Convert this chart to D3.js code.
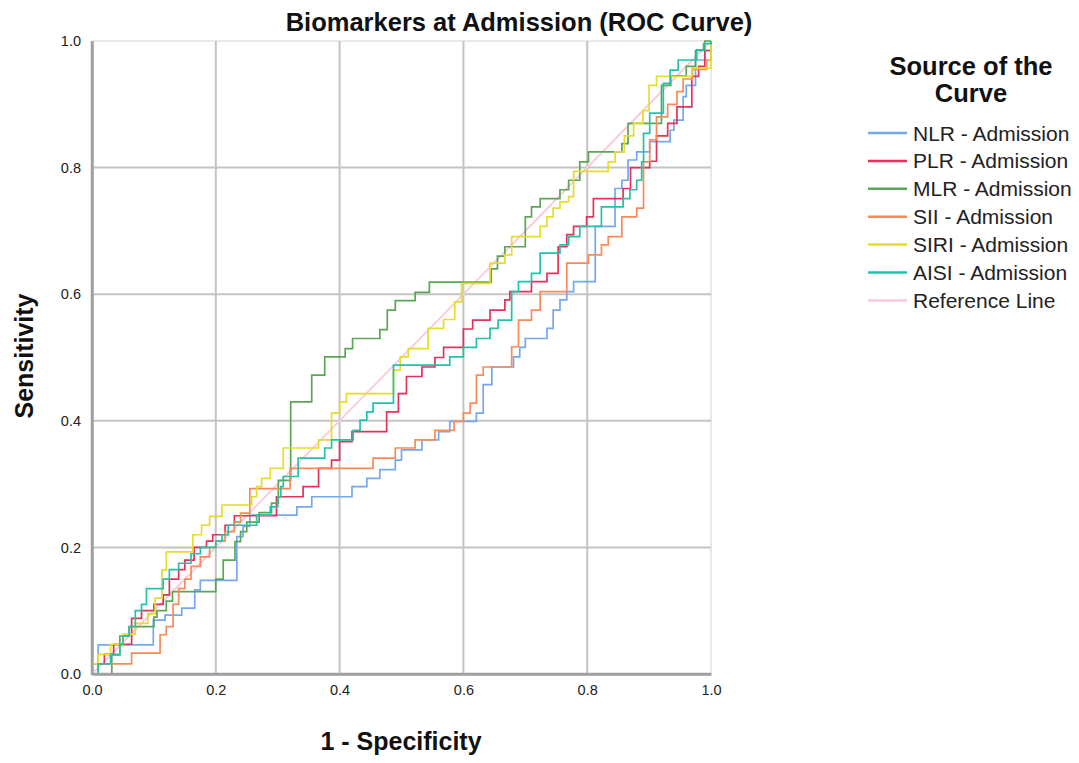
<!DOCTYPE html>
<html><head><meta charset="utf-8">
<script src="https://cdn.jsdelivr.net/npm/d3@7"></script>
<style>body{margin:0;background:#fff;}svg{display:block;font-family:"Liberation Sans",Arial,sans-serif;}</style>
</head><body><svg id="c" width="1079" height="763"></svg>
<script>
// ---- data (FPR, TPR) step corners: at FPR x the curve rises to TPR y ----
const seriesNames = ["NLR - Admission","PLR - Admission","MLR - Admission","SII - Admission","SIRI - Admission","AISI - Admission","Reference Line"];
const seriesColors = ["#74a8f2","#e3325b","#5ba656","#fa8a5a","#e6dc2a","#22c3aa","#fbc9d9"];
const xTicks = [0,0.2,0.4,0.6,0.8,1.0];
const yTicks = [0,0.2,0.4,0.6,0.8,1.0];

const nlr = [[0,0],[0.01,0.046],[0.099,0.085],[0.118,0.093],[0.145,0.104],[0.166,0.133],[0.175,0.148],[0.234,0.217],[0.244,0.233],[0.255,0.251],[0.331,0.264],[0.355,0.28],[0.42,0.296],[0.444,0.309],[0.465,0.323],[0.49,0.338],[0.5,0.354],[0.533,0.37],[0.56,0.383],[0.578,0.399],[0.621,0.412],[0.632,0.457],[0.646,0.485],[0.681,0.501],[0.691,0.516],[0.7,0.53],[0.735,0.546],[0.745,0.575],[0.756,0.591],[0.767,0.604],[0.778,0.62],[0.813,0.707],[0.845,0.767],[0.856,0.78],[0.866,0.812],[0.88,0.825],[0.901,0.841],[0.934,0.859],[0.94,0.875],[0.955,0.912],[0.96,0.93],[0.975,0.97],[0.99,0.985],[1,1]];
const plr = [[0,0],[0,0.016],[0.02,0.031],[0.035,0.047],[0.064,0.088],[0.08,0.1],[0.1,0.11],[0.115,0.125],[0.125,0.15],[0.14,0.165],[0.15,0.18],[0.165,0.2],[0.185,0.21],[0.195,0.22],[0.215,0.235],[0.23,0.25],[0.298,0.28],[0.341,0.296],[0.366,0.325],[0.387,0.338],[0.4,0.367],[0.42,0.383],[0.476,0.414],[0.495,0.443],[0.508,0.47],[0.533,0.485],[0.554,0.5],[0.568,0.516],[0.6,0.545],[0.615,0.559],[0.643,0.575],[0.667,0.591],[0.675,0.604],[0.71,0.62],[0.735,0.633],[0.753,0.675],[0.767,0.694],[0.778,0.707],[0.799,0.722],[0.81,0.751],[0.858,0.767],[0.87,0.8],[0.901,0.81],[0.912,0.85],[0.93,0.87],[0.945,0.896],[0.969,0.944],[0.98,0.96],[0.99,0.985],[1,1]];
const mlr = [[0,0],[0.032,0.03],[0.045,0.06],[0.06,0.075],[0.1,0.09],[0.105,0.1],[0.12,0.115],[0.13,0.13],[0.2,0.15],[0.212,0.18],[0.231,0.209],[0.24,0.225],[0.25,0.24],[0.27,0.255],[0.29,0.27],[0.301,0.306],[0.321,0.43],[0.355,0.472],[0.376,0.501],[0.409,0.514],[0.421,0.53],[0.465,0.544],[0.477,0.575],[0.49,0.59],[0.522,0.603],[0.545,0.619],[0.645,0.64],[0.655,0.66],[0.667,0.675],[0.7,0.722],[0.71,0.738],[0.724,0.751],[0.756,0.765],[0.77,0.78],[0.788,0.809],[0.802,0.825],[0.856,0.838],[0.866,0.87],[0.92,0.93],[0.935,0.945],[0.96,0.96],[0.975,0.985],[0.99,1],[1,1]];
const sii = [[0,0],[0,0.016],[0.064,0.033],[0.11,0.062],[0.12,0.075],[0.131,0.11],[0.14,0.135],[0.15,0.15],[0.16,0.17],[0.175,0.185],[0.19,0.2],[0.2,0.21],[0.215,0.225],[0.23,0.24],[0.24,0.254],[0.255,0.293],[0.32,0.325],[0.454,0.341],[0.49,0.357],[0.522,0.37],[0.554,0.385],[0.585,0.399],[0.6,0.412],[0.611,0.428],[0.621,0.472],[0.632,0.485],[0.678,0.517],[0.689,0.559],[0.71,0.575],[0.724,0.604],[0.767,0.649],[0.802,0.662],[0.823,0.678],[0.834,0.691],[0.856,0.722],[0.88,0.736],[0.891,0.809],[0.901,0.844],[0.912,0.88],[0.93,0.9],[0.945,0.92],[0.955,0.94],[0.97,0.955],[0.993,0.97],[1,1]];
const siri = [[0,0],[0,0.016],[0.01,0.031],[0.03,0.047],[0.05,0.063],[0.07,0.08],[0.09,0.095],[0.102,0.12],[0.113,0.164],[0.12,0.193],[0.163,0.22],[0.177,0.235],[0.19,0.249],[0.21,0.267],[0.258,0.28],[0.266,0.296],[0.274,0.309],[0.288,0.325],[0.309,0.357],[0.366,0.37],[0.387,0.412],[0.4,0.43],[0.411,0.443],[0.487,0.48],[0.498,0.501],[0.511,0.514],[0.543,0.546],[0.568,0.56],[0.586,0.588],[0.597,0.617],[0.643,0.649],[0.667,0.662],[0.678,0.691],[0.724,0.707],[0.735,0.722],[0.745,0.736],[0.756,0.746],[0.77,0.754],[0.778,0.794],[0.834,0.809],[0.845,0.825],[0.86,0.85],[0.875,0.87],[0.89,0.89],[0.9,0.93],[0.912,0.944],[0.969,0.957],[1,1]];
const aisi = [[0,0],[0.01,0.016],[0.03,0.031],[0.045,0.047],[0.05,0.06],[0.06,0.075],[0.07,0.1],[0.08,0.11],[0.088,0.135],[0.115,0.15],[0.125,0.165],[0.14,0.175],[0.16,0.19],[0.175,0.2],[0.2,0.21],[0.21,0.22],[0.22,0.235],[0.266,0.251],[0.288,0.264],[0.3,0.28],[0.305,0.296],[0.309,0.312],[0.333,0.341],[0.376,0.357],[0.387,0.37],[0.422,0.385],[0.433,0.401],[0.444,0.414],[0.454,0.428],[0.487,0.488],[0.578,0.501],[0.6,0.516],[0.621,0.53],[0.643,0.546],[0.656,0.559],[0.678,0.604],[0.689,0.62],[0.71,0.633],[0.724,0.665],[0.756,0.678],[0.77,0.691],[0.788,0.707],[0.823,0.738],[0.858,0.751],[0.869,0.765],[0.88,0.78],[0.888,0.809],[0.891,0.854],[0.901,0.886],[0.923,0.933],[0.934,0.954],[0.947,0.97],[0.977,0.986],[0.988,0.996],[1,1]];
const reference = [[0,0],[1,1]];
const curves = [nlr, plr, mlr, sii, siri, aisi];

// ---- drawing ----
const svg = d3.select("#c");
svg.append("rect").attr("width",1079).attr("height",763).attr("fill","#fff");
const x = d3.scaleLinear().domain([0,1]).range([92,711]);
const y = d3.scaleLinear().domain([0,1]).range([674,41]);

// frame
svg.append("line").attr("x1",x(0)).attr("x2",x(1)).attr("y1",y(1)).attr("y2",y(1)).attr("stroke","#e2e2e2").attr("stroke-width",1.5);
svg.append("line").attr("x1",x(1)).attr("x2",x(1)).attr("y1",y(0)).attr("y2",y(1)).attr("stroke","#e2e2e2").attr("stroke-width",1.5);
// grid
const g = svg.append("g");
g.selectAll(".gx").data(xTicks.filter(t=>t>0&&t<1)).enter().append("line")
  .attr("x1",d=>x(d)).attr("x2",d=>x(d)).attr("y1",y(0)).attr("y2",y(1))
  .attr("stroke","#c4c4c4").attr("stroke-width",2);
g.selectAll(".gy").data(yTicks.filter(t=>t>0&&t<1)).enter().append("line")
  .attr("x1",x(0)).attr("x2",x(1)).attr("y1",d=>y(d)).attr("y2",d=>y(d))
  .attr("stroke","#c4c4c4").attr("stroke-width",2);

// axes
const xAxis = d3.axisBottom(x).tickValues(xTicks).tickFormat(d3.format(".1f")).tickSize(0).tickPadding(11);
const yAxis = d3.axisLeft(y).tickValues(yTicks).tickFormat(d3.format(".1f")).tickSize(0).tickPadding(11);
const gx = svg.append("g").attr("transform",`translate(0,${y(0)})`).call(xAxis);
const gy = svg.append("g").attr("transform",`translate(${x(0)},0)`).call(yAxis);
[gx,gy].forEach(a=>{
  a.select(".domain").attr("stroke","#a0a0a0").attr("stroke-width",2.5);
  a.selectAll("text").attr("font-size",14.5).attr("fill","#222").attr("font-family","'Liberation Sans',Arial,sans-serif");
});

// curves
const line = d3.line().x(d=>x(d[0])).y(d=>y(d[1]));
const stepLine = d3.line().x(d=>x(d[0])).y(d=>y(d[1])).curve(d3.curveStepAfter);
svg.append("path").datum(reference).attr("d",line).attr("fill","none").attr("stroke",seriesColors[6]).attr("stroke-width",1.8);
curves.forEach((c,i)=>{
  svg.append("path").datum(c).attr("d",stepLine).attr("fill","none")
    .attr("stroke",seriesColors[i]).attr("stroke-width",1.7);
});

// re-draw axis lines on top
svg.append("line").attr("x1",x(0)).attr("x2",x(0)).attr("y1",y(0)+1).attr("y2",y(1)).attr("stroke","#a0a0a0").attr("stroke-width",2.5);
svg.append("line").attr("x1",x(0)).attr("x2",x(1)).attr("y1",y(0)).attr("y2",y(0)).attr("stroke","#a0a0a0").attr("stroke-width",2.5);

// titles
svg.append("text").attr("x",519).attr("y",31).attr("text-anchor","middle")
  .attr("font-size",25.5).attr("font-weight","bold").attr("fill","#111").text("Biomarkers at Admission (ROC Curve)");
svg.append("text").attr("x",401).attr("y",750).attr("text-anchor","middle")
  .attr("font-size",25).attr("font-weight","bold").attr("fill","#111").text("1 - Specificity");
svg.append("text").attr("transform","translate(33,356) rotate(-90)").attr("text-anchor","middle")
  .attr("font-size",25).attr("font-weight","bold").attr("fill","#111").text("Sensitivity");

// legend
const lg = svg.append("g");
lg.append("text").attr("x",971).attr("y",75).attr("text-anchor","middle").attr("font-size",25.5).attr("font-weight","bold").attr("fill","#111").text("Source of the");
lg.append("text").attr("x",971).attr("y",102).attr("text-anchor","middle").attr("font-size",25.5).attr("font-weight","bold").attr("fill","#111").text("Curve");
seriesNames.forEach((n,i)=>{
  const yy = 133 + i*27.9;
  lg.append("line").attr("x1",868).attr("x2",907).attr("y1",yy).attr("y2",yy).attr("stroke",seriesColors[i]).attr("stroke-width",2.5);
  lg.append("text").attr("x",913).attr("y",yy+7.5).attr("font-size",21).attr("fill","#222").text(n);
});
</script></body></html>
